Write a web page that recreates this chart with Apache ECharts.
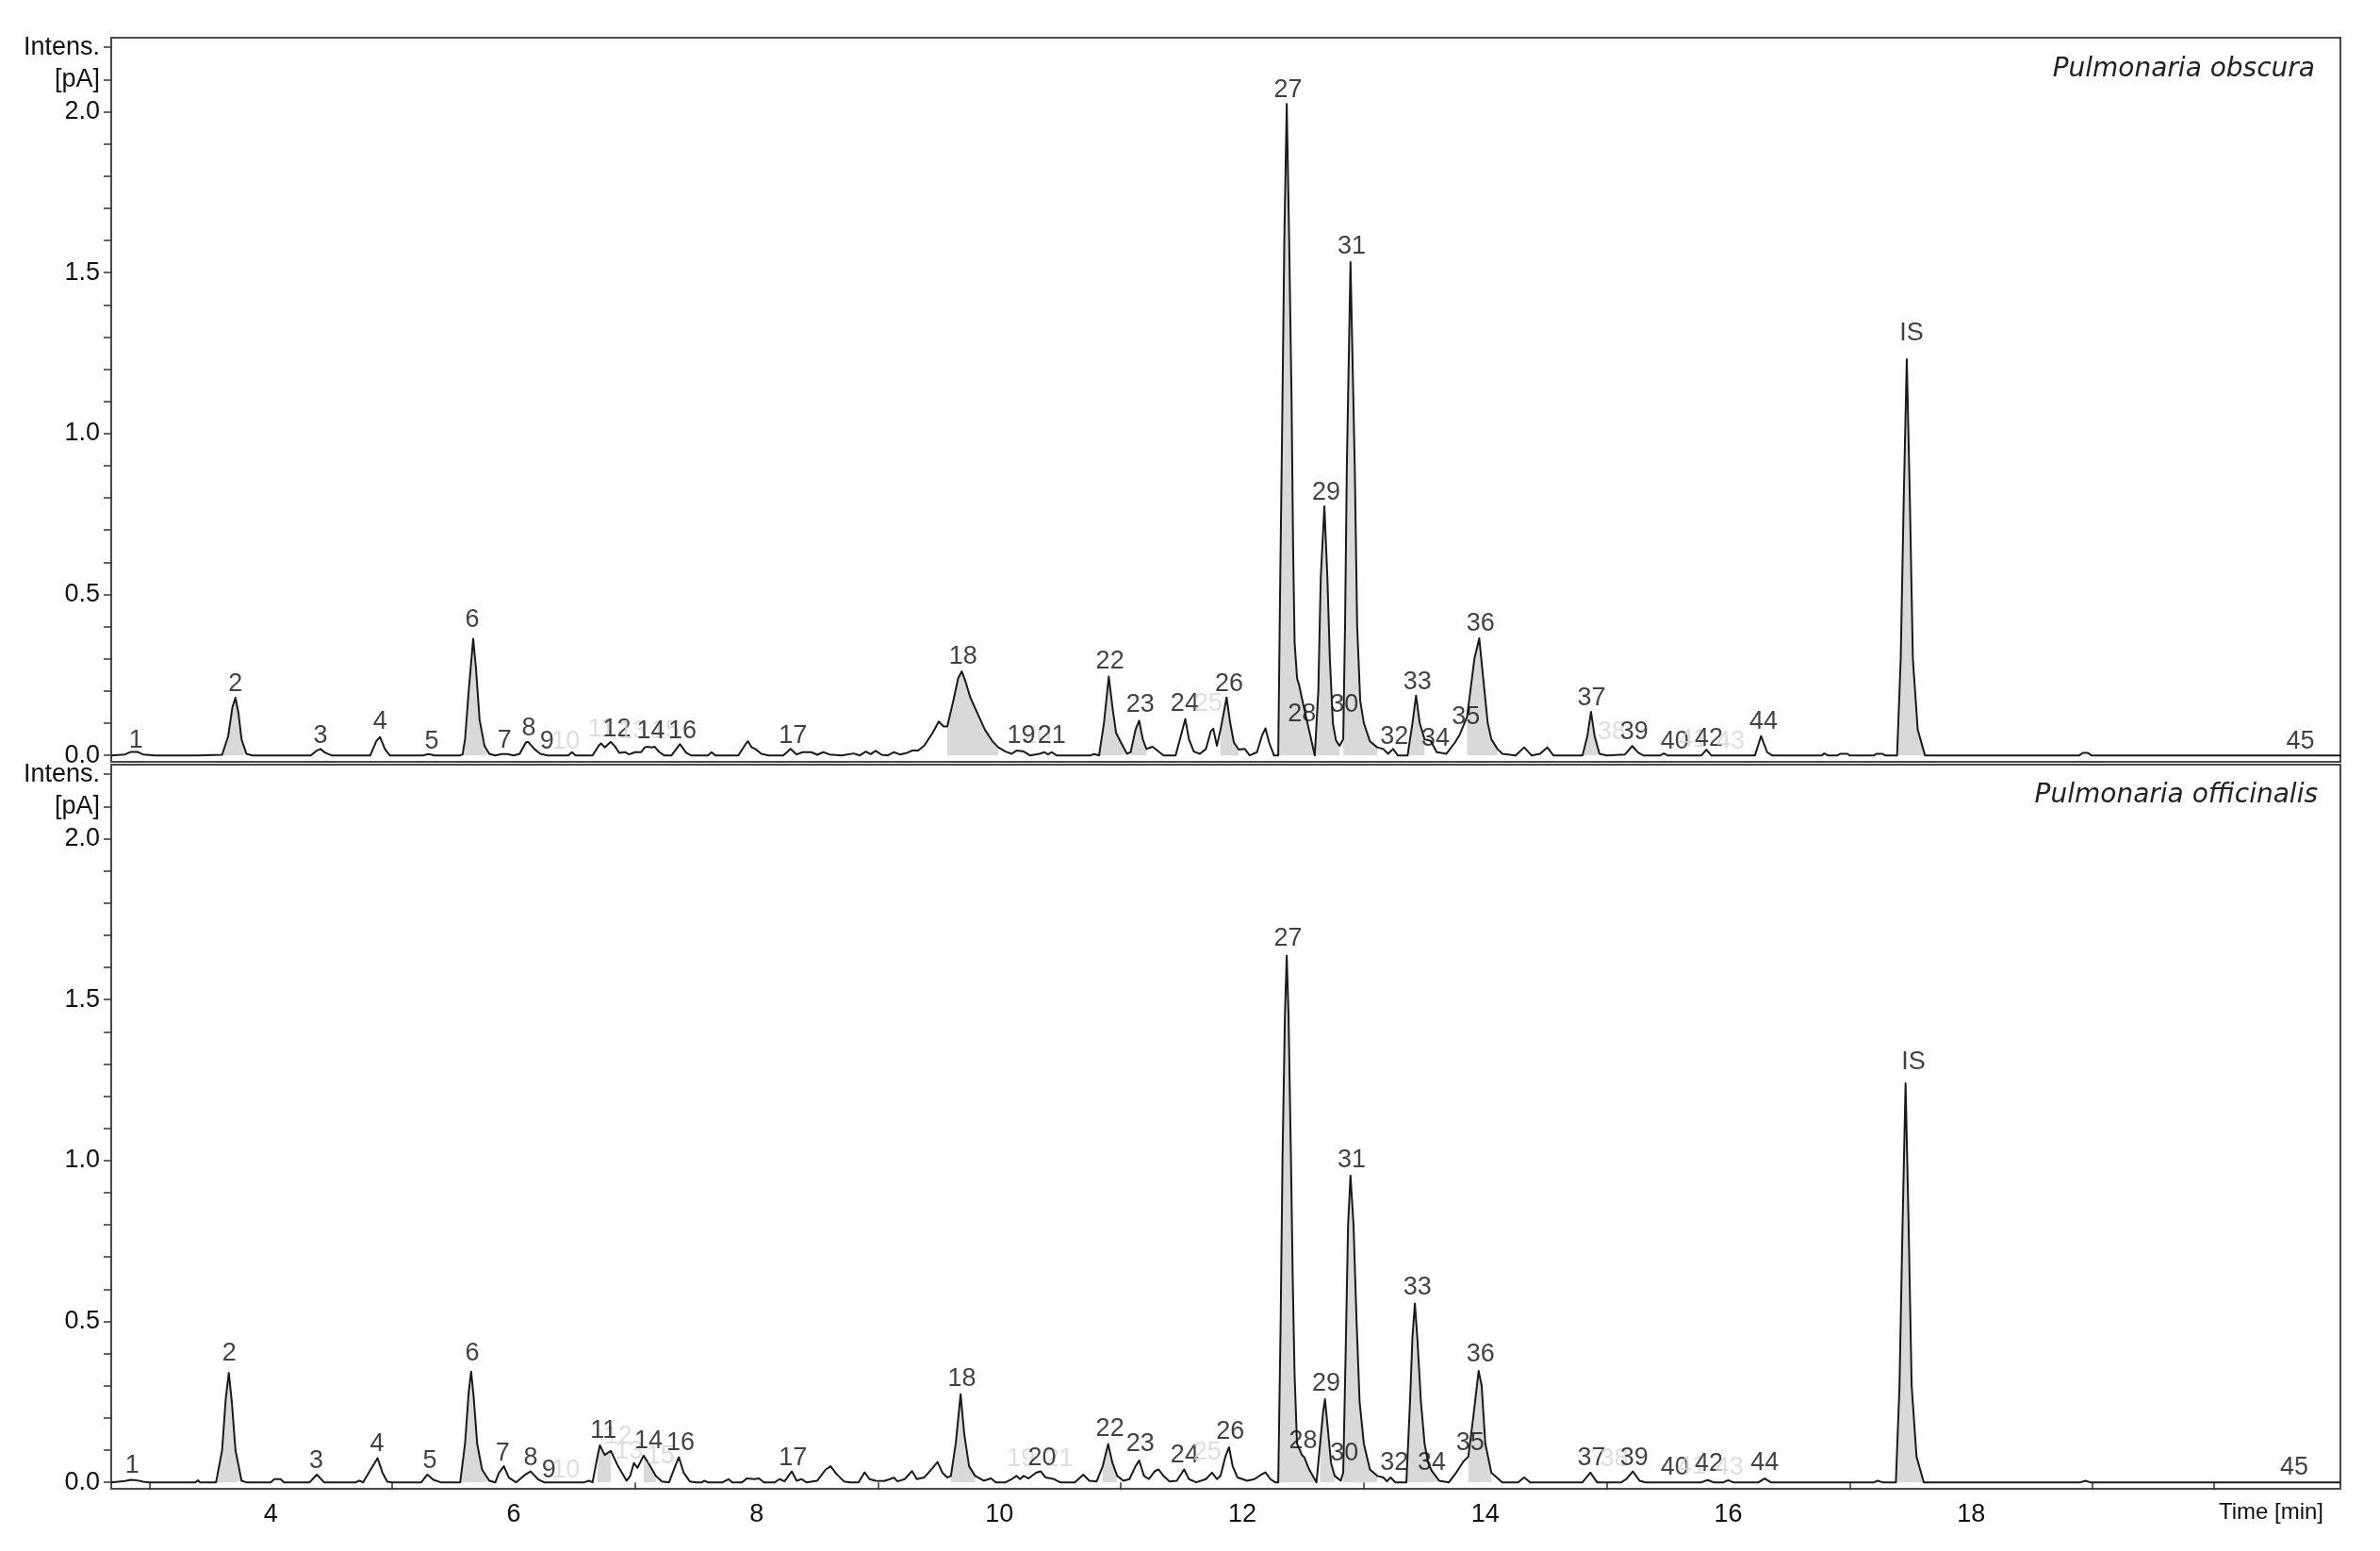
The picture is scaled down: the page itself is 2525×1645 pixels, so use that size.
<!DOCTYPE html>
<html><head><meta charset="utf-8">
<script src="https://cdn.jsdelivr.net/npm/echarts@6.0.0/dist/echarts.min.js"></script>
<style>html,body{margin:0;padding:0;background:#fff;}#c{width:2525px;height:1645px;}</style>
</head><body><div id="c"></div>
<script>
// ---------- DATA ----------
const xTickLabels = [4, 6, 8, 10, 12, 14, 16, 18];
const xMinorTicks = [3, 5, 7, 9, 11, 13, 15, 17, 19, 20];
const yTickValues = [0, 0.1, 0.2, 0.3, 0.4, 0.5, 0.6, 0.7, 0.8, 0.9, 1.0, 1.1, 1.2, 1.3, 1.4, 1.5, 1.6, 1.7, 1.8, 1.9, 2.0, 2.1, 2.2];
const yTickLabels = [0, 0.5, 1.0, 1.5, 2.0, 2.1, 2.2];

// Pulmonaria obscura: [time min, intensity pA]
const obscuraTrace = [
[2.69,0],[2.80,0.003],[2.85,0.011],[2.90,0.011],[2.95,0.003],[3.05,0],[3.40,0],
[3.60,0.002],[3.65,0.06],[3.685,0.15],[3.71,0.179],[3.735,0.13],[3.76,0.05],[3.80,0.005],[3.85,0],
[4.33,0],[4.38,0.015],[4.41,0.02],[4.45,0.008],[4.50,0],
[4.82,0],[4.87,0.045],[4.90,0.057],[4.94,0.02],[4.98,0],
[5.25,0],[5.30,0.004],[5.35,0],
[5.56,0],[5.58,0.003],[5.60,0.05],[5.63,0.2],[5.667,0.362],[5.69,0.27],[5.72,0.11],[5.76,0.03],[5.80,0.005],[5.85,0],
[5.90,0.004],[5.95,0.004],[6.0,0],
[6.05,0.005],[6.10,0.04],[6.12,0.042],[6.17,0.02],[6.22,0.005],[6.28,0],
[6.45,0],[6.48,0.01],[6.51,0],
[6.65,0],[6.70,0.03],[6.72,0.037],[6.75,0.025],[6.80,0.042],[6.83,0.03],[6.87,0.008],[6.92,0.01],[6.95,0.003],[7.0,0.01],[7.05,0.01],[7.08,0.025],[7.10,0.027],[7.14,0.025],[7.16,0.027],[7.20,0.01],[7.24,0],
[7.30,0],[7.37,0.035],[7.42,0.008],[7.46,0],
[7.60,0],[7.63,0.01],[7.66,0],
[7.85,0],[7.91,0.035],[7.93,0.044],[7.96,0.025],[7.99,0.02],[8.04,0.005],[8.10,0],
[8.22,0],[8.28,0.02],[8.33,0.003],[8.38,0.01],[8.45,0.01],[8.50,0.002],[8.55,0.01],[8.60,0.003],[8.70,0],[8.80,0.006],[8.85,0],
[8.90,0.012],[8.94,0.004],[8.98,0.014],[9.03,0.002],[9.08,0],[9.13,0.01],[9.18,0.003],[9.24,0.008],[9.28,0.015],[9.33,0.015],[9.38,0.03],[9.45,0.07],[9.50,0.105],[9.54,0.09],[9.57,0.09],[9.62,0.17],[9.66,0.24],[9.69,0.261],[9.72,0.23],[9.76,0.18],[9.82,0.13],[9.88,0.08],[9.94,0.045],[9.99,0.025],[10.05,0.012],[10.10,0.005],[10.14,0.015],[10.20,0.012],[10.25,0],[10.33,0.005],[10.37,0.01],[10.40,0.003],[10.43,0.01],[10.47,0],
[10.75,0],[10.78,0.004],[10.82,0],[10.86,0.1],[10.90,0.245],[10.93,0.15],[10.96,0.07],[11.00,0.04],[11.05,0.005],[11.08,0.01],[11.12,0.08],[11.15,0.108],[11.18,0.05],[11.21,0.02],[11.26,0.027],[11.30,0.015],[11.35,0],
[11.45,0],[11.50,0.07],[11.53,0.113],[11.56,0.05],[11.60,0.012],[11.65,0.005],[11.70,0.02],[11.74,0.075],[11.76,0.083],[11.79,0.03],[11.82,0.08],[11.87,0.18],[11.90,0.1],[11.93,0.04],[11.97,0.018],[12.02,0.02],[12.06,0],[12.12,0.01],[12.16,0.06],[12.19,0.084],[12.22,0.04],[12.26,0],[12.295,0],
[12.31,0.5],[12.325,0.95],[12.345,1.6],[12.365,2.024],[12.385,1.6],[12.405,1.1],[12.418,0.63],[12.43,0.35],[12.45,0.24],[12.468,0.217],[12.50,0.16],[12.53,0.11],[12.56,0.06],[12.596,0],
[12.625,0.2],[12.645,0.55],[12.675,0.774],[12.70,0.55],[12.72,0.3],[12.745,0.1],[12.77,0.047],[12.80,0.03],[12.83,0.05],[12.845,0.4],[12.86,0.9],[12.89,1.533],[12.925,0.9],[12.945,0.4],[12.97,0.17],[13.00,0.1],[13.05,0.044],[13.11,0.025],[13.16,0.02],[13.20,0.005],[13.24,0.02],[13.28,0],
[13.36,0],[13.40,0.1],[13.43,0.186],[13.46,0.1],[13.50,0.05],[13.55,0.045],[13.60,0.01],[13.68,0.005],[13.75,0.04],[13.79,0.065],[13.85,0.12],[13.91,0.3],[13.95,0.364],[13.98,0.25],[14.02,0.1],[14.05,0.05],[14.10,0.02],[14.14,0.005],[14.25,0],[14.32,0.025],[14.38,0],[14.45,0.005],[14.51,0.025],[14.56,0],[14.80,0],[14.84,0.06],[14.87,0.135],[14.90,0.06],[14.94,0.005],[15.0,0],
[15.15,0.003],[15.21,0.029],[15.26,0.008],[15.30,0],[15.44,0],[15.47,0.006],[15.50,0],[15.78,0],[15.82,0.018],[15.86,0],[16.22,0],[16.27,0.06],[16.32,0.01],[16.36,0],
[16.77,0],[16.79,0.006],[16.82,0],[16.90,0],[16.92,0.005],[16.98,0.005],[17.00,0],[17.20,0],[17.22,0.005],[17.27,0.005],[17.29,0],
[17.39,0],[17.42,0.3],[17.445,0.8],[17.47,1.231],[17.495,0.8],[17.52,0.3],[17.56,0.08],[17.62,0],
[18.89,0],[18.92,0.008],[18.96,0.008],[18.99,0],[21.04,0]
];

// Pulmonaria officinalis: [time min, intensity pA]
const officinalisTrace = [
[2.69,0],[2.80,0.004],[2.85,0.008],[2.90,0.006],[2.95,0.002],[3.0,0],
[3.38,0],[3.40,0.006],[3.42,0],
[3.55,0],[3.60,0.1],[3.63,0.26],[3.655,0.34],[3.68,0.25],[3.71,0.1],[3.76,0.005],[3.80,0],
[4.00,0],[4.03,0.01],[4.08,0.01],[4.11,0],
[4.32,0],[4.38,0.024],[4.44,0],
[4.70,0],[4.73,0.005],[4.76,0],[4.84,0.05],[4.88,0.075],[4.92,0.03],[4.96,0.002],[5.00,0],
[5.24,0],[5.29,0.024],[5.34,0.008],[5.40,0],
[5.56,0],[5.60,0.12],[5.63,0.28],[5.65,0.344],[5.67,0.27],[5.70,0.12],[5.74,0.04],[5.80,0.005],[5.85,0],
[5.88,0.03],[5.92,0.05],[5.96,0.015],[6.02,0],[6.10,0.025],[6.14,0.034],[6.20,0.01],[6.25,0],
[6.58,0],[6.62,0.005],[6.65,0],[6.69,0.08],[6.71,0.115],[6.75,0.085],[6.80,0.098],[6.86,0.05],[6.93,0.005],[6.96,0.02],[6.99,0.06],[7.02,0.045],[7.07,0.083],[7.11,0.06],[7.17,0.02],[7.22,0.003],[7.28,0],[7.33,0.05],[7.36,0.078],[7.40,0.03],[7.45,0.003],[7.50,0],
[7.55,0],[7.57,0.005],[7.60,0],[7.72,0],[7.77,0.01],[7.80,0],[7.88,0],[7.92,0.012],[7.98,0.01],[8.02,0.012],[8.06,0],
[8.15,0],[8.19,0.01],[8.23,0.003],[8.29,0.034],[8.33,0.005],[8.37,0.01],[8.41,0],[8.50,0.005],[8.57,0.04],[8.61,0.05],[8.66,0.025],[8.72,0.003],[8.77,0],
[8.84,0],[8.89,0.031],[8.93,0.01],[8.98,0.005],[9.05,0.004],[9.10,0.01],[9.13,0.015],[9.16,0.003],[9.22,0.01],[9.28,0.035],[9.32,0.01],[9.38,0.015],[9.45,0.045],[9.49,0.063],[9.53,0.03],[9.57,0.015],[9.60,0.02],[9.64,0.12],[9.68,0.274],[9.71,0.15],[9.75,0.05],[9.80,0.02],[9.87,0.005],[9.93,0.012],[9.97,0],[10.05,0],[10.10,0.01],[10.14,0.02],[10.17,0.01],[10.20,0.02],[10.24,0.012],[10.30,0.03],[10.34,0.034],[10.38,0.015],[10.45,0.01],[10.50,0],
[10.62,0],[10.69,0.024],[10.74,0.005],[10.80,0.003],[10.85,0.05],[10.895,0.119],[10.93,0.06],[10.97,0.02],[11.02,0.005],[11.07,0.01],[11.12,0.05],[11.15,0.068],[11.19,0.02],[11.23,0.01],[11.28,0.035],[11.31,0.04],[11.35,0.02],[11.40,0.003],[11.46,0.005],[11.52,0.04],[11.56,0.01],[11.62,0],[11.70,0.01],[11.75,0.03],[11.79,0.01],[11.82,0.02],[11.86,0.08],[11.89,0.109],[11.92,0.05],[11.96,0.015],[12.00,0.01],[12.04,0.005],[12.10,0.01],[12.16,0.025],[12.19,0.031],[12.23,0.01],[12.27,0],[12.295,0],
[12.315,0.5],[12.33,1.0],[12.35,1.45],[12.365,1.637],[12.38,1.45],[12.40,1.0],[12.415,0.62],[12.43,0.33],[12.45,0.12],[12.49,0.085],[12.51,0.078],[12.55,0.04],[12.61,0],
[12.64,0.12],[12.665,0.22],[12.68,0.258],[12.70,0.18],[12.73,0.06],[12.76,0.02],[12.81,0.005],[12.83,0.03],[12.85,0.4],[12.87,0.8],[12.89,0.953],[12.915,0.8],[12.94,0.5],[12.965,0.25],[13.00,0.12],[13.05,0.04],[13.11,0.02],[13.16,0.015],[13.19,0.003],[13.22,0.015],[13.26,0],
[13.35,0],[13.38,0.25],[13.40,0.45],[13.42,0.556],[13.44,0.45],[13.47,0.25],[13.50,0.12],[13.53,0.06],[13.56,0.035],[13.62,0.005],[13.70,0],[13.76,0.03],[13.82,0.065],[13.86,0.08],[13.90,0.2],[13.945,0.346],[13.97,0.3],[14.00,0.12],[14.05,0.03],[14.14,0],
[14.27,0],[14.32,0.015],[14.37,0],
[14.80,0],[14.865,0.03],[14.92,0],[15.12,0],[15.16,0.01],[15.215,0.034],[15.27,0.005],[15.32,0],
[15.78,0],[15.83,0.007],[15.88,0],[15.96,0],[16.00,0.007],[16.04,0],[16.25,0],[16.30,0.012],[16.35,0],
[17.20,0],[17.23,0.005],[17.27,0],
[17.38,0],[17.41,0.3],[17.435,0.8],[17.46,1.24],[17.485,0.8],[17.51,0.3],[17.55,0.08],[17.61,0],
[18.90,0],[18.94,0.005],[18.98,0],[21.04,0]
];

// integrated (grey filled) retention windows [start, end] in min
const obscuraFills = [[3.60,3.80],[5.58,5.80],[9.57,9.99],[10.82,11.05],[11.08,11.21],[11.82,11.97],[12.295,12.468],[12.468,12.596],[12.596,12.80],[12.83,13.11],[13.36,13.50],[13.85,14.10],[14.80,14.94],[17.39,17.62]];
const officinalisFills = [[3.55,3.76],[5.56,5.80],[6.69,6.80],[7.07,7.17],[9.60,9.80],[10.85,10.97],[12.295,12.51],[12.51,12.61],[12.64,12.76],[12.83,13.11],[13.35,13.56],[13.56,13.62],[13.86,14.05],[17.38,17.61]];

// peak labels: [text, time, intensity at label centre, faint]
const obscuraLabels = [
['1',2.89,0.047,0],['2',3.71,0.222,0],['3',4.41,0.061,0],['4',4.90,0.104,0],['5',5.325,0.042,0],['6',5.66,0.42,0],
['7',5.925,0.047,0],['8',6.125,0.085,0],['9',6.275,0.042,0],['10',6.43,0.042,1],['11',6.72,0.08,1],['12',6.85,0.08,0],
['13',6.98,0.075,1],['15',7.25,0.075,1],['14',7.13,0.075,0],['16',7.39,0.075,0],['17',8.30,0.061,0],['18',9.70,0.307,0],
['20',10.31,0.061,1],['19',10.18,0.061,0],['21',10.43,0.061,0],['22',10.91,0.292,0],['23',11.16,0.156,0],['24',11.525,0.16,0],
['25',11.72,0.16,1],['26',11.89,0.222,0],['27',12.375,2.066,0],['28',12.49,0.127,0],['29',12.69,0.816,0],['30',12.84,0.156,0],
['31',12.90,1.58,0],['32',13.25,0.057,0],['33',13.44,0.226,0],['34',13.59,0.052,0],['35',13.84,0.118,0],['36',13.96,0.41,0],
['37',14.875,0.179,0],['38',15.04,0.071,1],['39',15.225,0.071,0],['40',15.56,0.042,0],['41',15.71,0.05,1],['42',15.84,0.052,0],
['43',16.02,0.042,1],['44',16.29,0.104,0],['IS',17.51,1.311,0],['45',20.71,0.042,0]
];
const officinalisLabels = [
['1',2.86,0.052,0],['2',3.66,0.40,0],['3',4.375,0.066,0],['4',4.875,0.118,0],['5',5.31,0.066,0],['6',5.66,0.40,0],
['7',5.91,0.09,0],['8',6.14,0.075,0],['9',6.29,0.038,0],['10',6.43,0.038,1],['12',6.86,0.142,1],['13',6.95,0.095,1],
['15',7.21,0.08,1],['11',6.74,0.16,0],['14',7.11,0.127,0],['16',7.375,0.123,0],['17',8.30,0.075,0],['18',9.69,0.32,0],
['19',10.175,0.071,1],['21',10.49,0.071,1],['20',10.35,0.075,0],['22',10.91,0.165,0],['23',11.16,0.118,0],['24',11.525,0.085,0],
['25',11.71,0.094,1],['26',11.90,0.156,0],['27',12.375,1.689,0],['28',12.50,0.127,0],['29',12.69,0.307,0],['30',12.84,0.09,0],
['31',12.90,1.0,0],['32',13.25,0.061,0],['33',13.44,0.604,0],['34',13.56,0.061,0],['35',13.875,0.123,0],['36',13.96,0.396,0],
['37',14.875,0.075,0],['38',15.06,0.071,1],['39',15.225,0.075,0],['40',15.56,0.047,0],['41',15.70,0.05,1],['42',15.84,0.057,0],
['43',16.01,0.047,1],['44',16.30,0.061,0],['IS',17.525,1.307,0],['45',20.66,0.047,0]
];

// ---------- CHART ----------
const FONT = '"Liberation Sans", Arial, sans-serif';
const DARK = '#111';
const FAINT = '#d6d6d6';

function fillData(trace, ranges) {
  const out = [];
  ranges.forEach(r => {
    trace.forEach(p => { if (p[0] >= r[0] - 1e-9 && p[0] <= r[1] + 1e-9) out.push(p); });
    out.push([r[1] + 0.0001, '-']);
  });
  return out;
}
function labelData(labels) {
  return labels.map(l => ({
    value: [l[1], l[2]],
    label: { formatter: l[0], color: l[3] ? FAINT : DARK }
  }));
}

const xAxisBase = {
  type: 'value', min: 2.687, max: 21.04,
  axisLine: { show: false }, splitLine: { show: false }
};
const yAxisBase = {
  type: 'value', min: -0.02, max: 2.23,
  axisLine: { show: false }, splitLine: { show: false },
  axisTick: { show: true, inside: false, length: 8, lineStyle: { color: '#333', width: 1.5 }, customValues: yTickValues },
  axisLabel: {
    show: true, margin: 12, fontFamily: FONT, fontSize: 27, color: DARK,
    customValues: yTickLabels,
    formatter: v => {
      if (Math.abs(v - 2.2) < 1e-6) return 'Intens.';
      if (Math.abs(v - 2.1) < 1e-6) return '[pA]';
      return v.toFixed(1);
    }
  }
};

const chart = echarts.init(document.getElementById('c'), null, { renderer: 'canvas' });
const option = {
  animation: false,
  backgroundColor: '#fff',
  grid: [
    { left: 118, top: 40, width: 2365, height: 768, show: true, borderColor: '#4a4a4a', borderWidth: 2, backgroundColor: 'transparent' },
    { left: 118, top: 811, width: 2365, height: 768, show: true, borderColor: '#4a4a4a', borderWidth: 2, backgroundColor: 'transparent' }
  ],
  xAxis: [
    Object.assign({}, xAxisBase, { gridIndex: 0, axisTick: { show: false }, axisLabel: { show: false } }),
    Object.assign({}, xAxisBase, {
      gridIndex: 1,
      axisTick: { show: true, length: 8, lineStyle: { color: '#333', width: 1.5 }, customValues: xMinorTicks },
      axisLabel: { show: true, margin: 14, fontFamily: FONT, fontSize: 27, color: DARK, customValues: xTickLabels, formatter: v => String(v) }
    })
  ],
  yAxis: [
    Object.assign({}, yAxisBase, { gridIndex: 0 }),
    Object.assign({}, yAxisBase, { gridIndex: 1 })
  ],
  graphic: [
    { type: 'text', right: 69, top: 60, style: { text: 'Pulmonaria obscura', font: 'italic 28px "DejaVu Sans"', fill: '#222' } },
    { type: 'text', right: 66, top: 830, style: { text: 'Pulmonaria officinalis', font: 'italic 28px "DejaVu Sans"', fill: '#222' } },
    { type: 'text', right: 60, top: 1592, style: { text: 'Time [min]', font: '24px "Liberation Sans"', fill: DARK } }
  ],
  series: []
};

[[obscuraTrace, obscuraFills, obscuraLabels], [officinalisTrace, officinalisFills, officinalisLabels]].forEach((set, i) => {
  option.series.push({
    type: 'line', xAxisIndex: i, yAxisIndex: i, data: fillData(set[0], set[1]),
    showSymbol: false, symbol: 'none', connectNulls: false, z: 1,
    lineStyle: { width: 0, opacity: 0 }, areaStyle: { color: '#d9d9d9', opacity: 1 }, silent: true
  });
  option.series.push({
    type: 'line', xAxisIndex: i, yAxisIndex: i, data: set[0],
    showSymbol: false, symbol: 'none', z: 3,
    lineStyle: { width: 2, color: '#1a1a1a', join: 'round' }, silent: true
  });
  option.series.push({
    type: 'scatter', xAxisIndex: i, yAxisIndex: i, data: labelData(set[2]),
    symbolSize: 1, itemStyle: { color: 'rgba(0,0,0,0)' }, z: 4, silent: true,
    label: { show: true, position: 'inside', fontFamily: FONT, fontSize: 27 }
  });
});
chart.setOption(option);
</script>
</body></html>
